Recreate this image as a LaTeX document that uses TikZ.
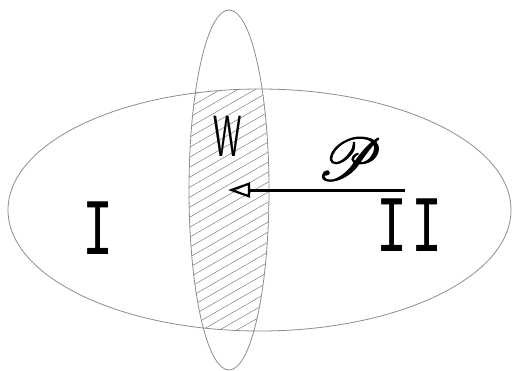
\documentclass[tikz,border=0pt]{standalone}
\usepackage{fontspec}
\usepackage{graphicx}
\usepackage{mathrsfs}
\usetikzlibrary{arrows.meta}
\newfontfamily\romfont{Liberation Mono}
\begin{document}
\begin{tikzpicture}[x=1pt,y=-1pt,
  outline/.style={draw=black!45, line width=0.8pt},
  hatch/.style={draw=black!55, line width=0.45pt},
  roman/.style={inner sep=0pt, font=\romfont\fontsize{80}{80}\selectfont},
  label/.style={inner sep=0pt}]
\useasboundingbox (0,0) rectangle (513,370);
% hatched intersection
\begin{scope}
  \clip (259.5,210) ellipse [x radius=251.5, y radius=121];
  \clip (229,190) ellipse [x radius=40, y radius=180];
  \foreach \c in {60,70,...,480} \draw[hatch] (150,\c) -- (310,\c-92);
\end{scope}
\draw[outline] (259.5,210) ellipse [x radius=251.5, y radius=121];
\draw[outline] (229,190) ellipse [x radius=40, y radius=180];
% labels
\node[roman] (one) at (98.5,228.5) {\scalebox{0.65}[1]{I}};
\node[roman] (twoa) at (392,225.5) {\scalebox{0.65}[1]{I}};
\node[roman] (twob) at (427,225.5) {\scalebox{0.65}[1]{I}};
\node[label, font=\sffamily\fontsize{58}{58}\selectfont] (w) at (228,136) {\scalebox{0.55}[1]{W}};
\node[label] (p) at (349.5,159) {\special{pdf:literal direct 2 Tr 0.15 w}\scalebox{6}{$\mathscr{P}$}\special{pdf:literal direct 0 Tr}};
% arrow
\coordinate (pstart) at (405,190);
\coordinate (ptip) at (228,190);
\draw[line width=3pt, -{Triangle[open, length=22pt, width=15pt, line width=2.2pt]}] (pstart) -- (ptip);
\end{tikzpicture}
\end{document}
